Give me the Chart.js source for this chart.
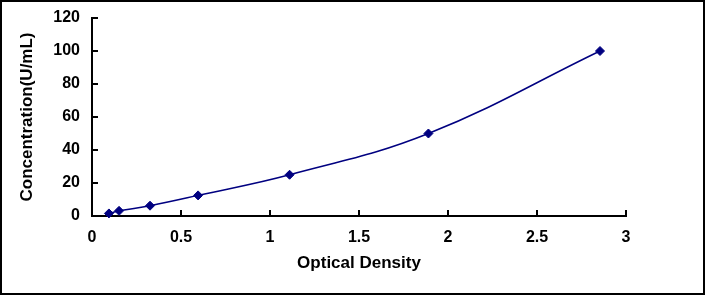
<!DOCTYPE html>
<html>
<head>
<meta charset="utf-8">
<script src="https://cdn.jsdelivr.net/npm/chart.js@4.4.1/dist/chart.umd.min.js"></script>
<style>
  html, body { margin: 0; padding: 0; background: #fff; }
  #frame { width: 705px; height: 295px; box-sizing: border-box; border: 2px solid #000; }
  canvas { display: block; }
</style>
</head>
<body>
<div id="frame"><canvas id="curve" width="701" height="291"></canvas></div>
<script>
// standard curve
const opticalDensity = [0.095, 0.152, 0.326, 0.596, 1.11, 1.89, 2.854];
const concentration = [1.56, 3.12, 6.25, 12.5, 25, 50, 100];
const xRange = [0, 3, 0.5];
const yRange = [0, 120, 20];

const points = opticalDensity.map((od, i) => ({ x: od, y: concentration[i] }));

// Excel-style ticks pointing into the plot
const innerTicks = {
    id: 'innerTicks',
    beforeDatasetsDraw(chart) {
        const { ctx, chartArea: a, scales: { x, y } } = chart;
        ctx.save();
        ctx.strokeStyle = '#000';
        ctx.lineWidth = 2;
        ctx.beginPath();
        x.ticks.forEach(t => {
            const px = x.getPixelForValue(t.value);
            ctx.moveTo(px, a.bottom);
            ctx.lineTo(px, a.bottom - 6);
        });
        y.ticks.forEach(t => {
            const py = y.getPixelForValue(t.value);
            ctx.moveTo(a.left, py);
            ctx.lineTo(a.left + 6, py);
        });
        ctx.stroke();
        ctx.restore();
    }
};

const tickFont = { family: 'Liberation Sans, Arial, sans-serif', size: 16, weight: 'bold' };
const titleFont = { family: 'Liberation Sans, Arial, sans-serif', size: 17, weight: 'bold' };

new Chart(document.getElementById('curve').getContext('2d'), {
    type: 'scatter',
    data: {
        datasets: [{
            data: points,
            showLine: true,
            tension: 0.4,
            borderColor: '#000080',
            borderWidth: 1.5,
            pointStyle: 'rectRot',
            pointRadius: 4.5,
            pointBackgroundColor: '#000080',
            pointBorderColor: '#000080',
            pointBorderWidth: 1,
            clip: false
        }]
    },
    options: {
        responsive: false,
        animation: false,
        events: [],
        layout: { padding: { top: 16, right: 77, left: 0, bottom: 0 } },
        plugins: { legend: { display: false }, tooltip: { enabled: false } },
        scales: {
            x: {
                type: 'linear',
                min: xRange[0],
                max: xRange[1],
                afterFit: s => { s.height = 77; s.paddingLeft = 0; s.paddingRight = 0; },
                ticks: { stepSize: xRange[2], color: '#000', font: tickFont, padding: 12, maxRotation: 0, callback: v => String(v) },
                grid: { display: false, drawTicks: false },
                border: { display: true, color: '#000', width: 2 },
                title: { display: true, text: 'Optical Density', color: '#000', font: titleFont, padding: { top: 0, bottom: 19 } }
            },
            y: {
                type: 'linear',
                min: yRange[0],
                max: yRange[1],
                afterFit: s => { s.width = 90; s.paddingTop = 0; s.paddingBottom = 0; },
                ticks: { stepSize: yRange[2], color: '#000', font: tickFont, padding: 12 },
                grid: { display: false, drawTicks: false },
                border: { display: true, color: '#000', width: 2 },
                title: { display: true, text: 'Concentration(U/mL)', color: '#000', font: titleFont, padding: { top: 15, bottom: 0 } }
            }
        }
    },
    plugins: [innerTicks]
});
</script>
</body>
</html>
